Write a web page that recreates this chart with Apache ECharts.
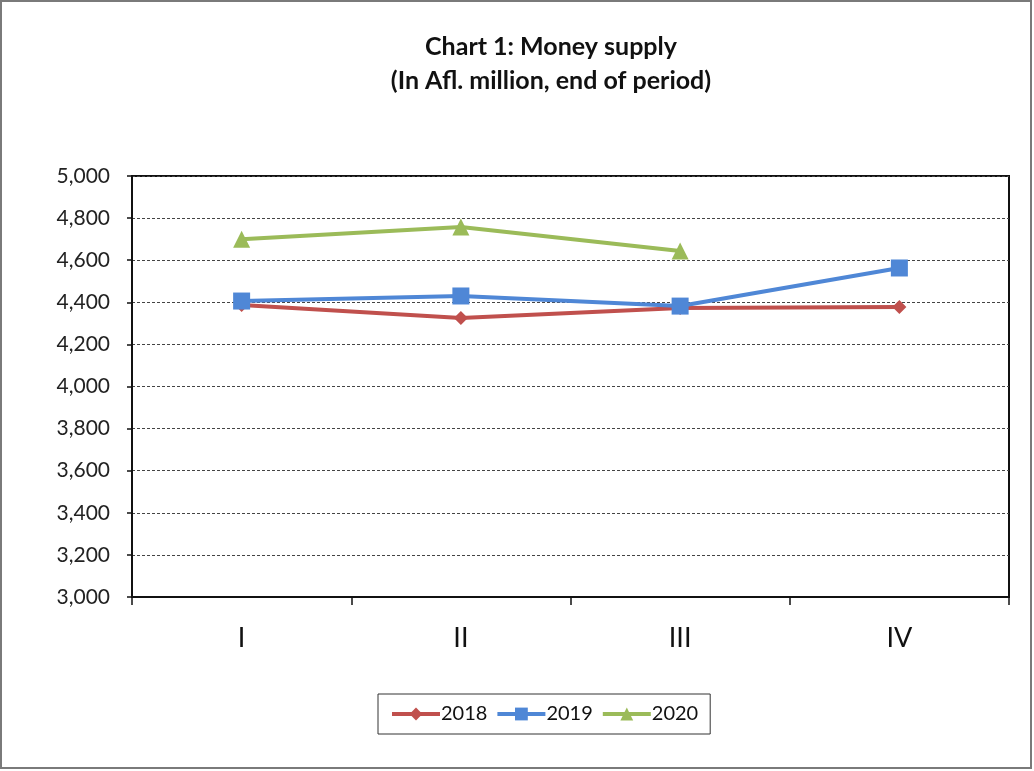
<!DOCTYPE html>
<html>
<head>
<meta charset="utf-8">
<script src="https://cdn.jsdelivr.net/npm/echarts@6/dist/echarts.min.js"></script>
<style>
  html, body { margin: 0; padding: 0; background: #fff; }
  #chart { width: 1034px; height: 771px; }
</style>
</head>
<body>
<div id="chart"></div>
<script>
// quarters and money supply (Afl. million)
const quarters = ['I', 'II', 'III', 'IV']
const m2018 = [4387, 4325, 4373, 4378]
const m2019 = [4406, 4430, 4382, 4563]
const m2020 = [4700, 4758, 4644, null]
const yTicks = [3000, 5000, 200]

const fontFam = 'Lato, "Open Sans", sans-serif'
const myChart = echarts.init(document.getElementById('chart'))

function lineSeries (name, data, color, symbol, size) {
  return {
    name: name,
    type: 'line',
    data: data,
    symbol: symbol,
    symbolSize: size,
    showSymbol: true,
    lineStyle: { color: color, width: 4 },
    itemStyle: { color: color },
    emphasis: { disabled: true }
  }
}

let option = {
  animation: false,
  backgroundColor: '#fff',
  title: {
    text: 'Chart 1: Money supply\n(In Afl. million, end of period)',
    left: 546,
    textAlign: 'center',
    top: 25,
    textStyle: {
      fontFamily: fontFam,
      fontWeight: 'bold',
      fontSize: 25,
      lineHeight: 34,
      color: '#111'
    }
  },
  graphic: [{
    type: 'rect',
    shape: { x: 1, y: 1, width: 1030, height: 767 },
    style: { fill: 'none', stroke: '#7a7a7a', lineWidth: 2 },
    silent: true
  }],
  legend: {
    data: ['2018', '2019', '2020'],
    left: 378,
    top: 694,
    itemWidth: 48,
    itemHeight: 16,
    itemGap: 8,
    padding: [10, 12, 10, 12],
    borderColor: '#333',
    borderWidth: 1,
    lineStyle: { width: 4 },
    textStyle: { fontFamily: fontFam, fontSize: 20, color: '#111', padding: [0, 0, 0, -4] }
  },
  grid: {
    left: 132,
    right: 25,
    top: 176,
    bottom: 174,
    show: true,
    borderColor: '#111',
    borderWidth: 2
  },
  xAxis: {
    type: 'category',
    data: quarters,
    boundaryGap: true,
    axisLine: { lineStyle: { color: '#111', width: 2 } },
    axisTick: { show: true, length: 8, lineStyle: { color: '#111', width: 1.5 } },
    axisLabel: { fontFamily: fontFam, fontSize: 27, color: '#111', margin: 28 }
  },
  yAxis: {
    type: 'value',
    min: yTicks[0],
    max: yTicks[1],
    interval: yTicks[2],
    axisLine: { show: true, lineStyle: { color: '#111', width: 2 } },
    axisTick: { show: true, length: 5, lineStyle: { color: '#111', width: 1.5 } },
    axisLabel: {
      fontFamily: fontFam,
      fontSize: 21,
      color: '#222',
      margin: 22,
      formatter: v => v.toLocaleString('en-US')
    },
    splitLine: { lineStyle: { color: '#444', type: [3, 2], width: 1 } }
  },
  series: [
    lineSeries('2018', m2018, '#C0504D', 'diamond', 14),
    lineSeries('2019', m2019, '#4F87D6', 'rect', 17),
    lineSeries('2020', m2020, '#9BBB59', 'triangle', 17)
  ]
}
myChart.setOption(option, true)
</script>
</body>
</html>
